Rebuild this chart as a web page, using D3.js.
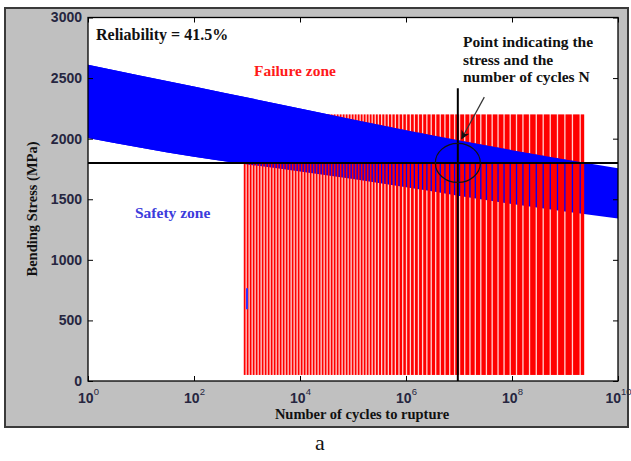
<!DOCTYPE html>
<html>
<head>
<meta charset="utf-8">
<script src="https://cdn.jsdelivr.net/npm/d3@7"></script>
<style>
  body { margin: 0; background: #fff; }
  svg { display: block; }
</style>
</head>
<body>
<svg id="chart" width="631" height="461"></svg>
<script>
// ---- data ----
const xExponents = [0, 2, 4, 6, 8, 10];
const yTicks = [0, 500, 1000, 1500, 2000, 2500, 3000];

// S-N scatter band (stress limits, MPa) at cycle exponents
const bandExponents = [0, 2, 4, 6, 8, 10];
const bandUpper = [2610, 2430, 2250, 2070, 1905, 1755];
const bandLower = [2005, 1850, 1728, 1600, 1460, 1341];

// failure region: cycles range and stress range
const failureCycles = [870, 2.3e9];
const failureStress = [50, 2200];

// operating point
const designStress = 1800;
const designCycles = 9.5e6;
const markerTopStress = 2417;

// isolated sample
const sampleCycles = 1000;
const sampleStress = [593, 766];

// annotation arrow [cycles, stress]
const arrowFrom = [3.0e7, 2343];
const arrowTo = [1.12e7, 2000];

const reliability = 41.5;

// ---- layout ----
const svg = d3.select('#chart');
const plot = { left: 88, top: 17.5, right: 618, bottom: 381 };
const x = d3.scaleLog().domain([1, 1e10]).range([plot.left, plot.right]);
const y = d3.scaleLinear().domain([0, 3000]).range([plot.bottom, plot.top]);

const serif = '"Liberation Serif", "Times New Roman", serif';
const sans = '"Liberation Sans", Arial, sans-serif';

// figure panel
svg.append('rect')
  .attr('x', 5).attr('y', 8).attr('width', 623).attr('height', 419)
  .attr('fill', '#c0c0c0').attr('stroke', '#3a3a3a').attr('stroke-width', 2);

svg.append('rect')
  .attr('x', plot.left).attr('y', plot.top)
  .attr('width', plot.right - plot.left).attr('height', plot.bottom - plot.top)
  .attr('fill', '#fff');

const defs = svg.append('defs');
defs.append('clipPath').attr('id', 'plotClip').append('rect')
  .attr('x', plot.left).attr('y', plot.top)
  .attr('width', plot.right - plot.left).attr('height', plot.bottom - plot.top);
defs.append('clipPath').attr('id', 'aboveDesign').append('rect')
  .attr('x', plot.left).attr('y', plot.top)
  .attr('width', plot.right - plot.left).attr('height', y(designStress) - plot.top);

const g = svg.append('g').attr('clip-path', 'url(#plotClip)');

const bandData = bandExponents.map((e, i) => ({ n: Math.pow(10, e), hi: bandUpper[i], lo: bandLower[i] }));
const bandArea = d3.area()
  .x(d => x(d.n))
  .y0(d => y(d.lo))
  .y1(d => y(d.hi))
  .curve(d3.curveMonotoneX);

// pale backing of the failure hatch
const fx0 = x(failureCycles[0]), fx1 = x(failureCycles[1]);
g.append('rect')
  .attr('x', fx0).attr('y', y(failureStress[1]))
  .attr('width', fx1 - fx0).attr('height', y(failureStress[0]) - y(failureStress[1]))
  .attr('fill', '#ffd2d2');

// full scatter band
g.append('path').datum(bandData).attr('d', bandArea).attr('fill', '#0000ff');

// failure hatch: vertical red strokes, spacing widening toward long lives
const stripes = [];
const widenFrom = x(2e5);
let px = fx0;
while (px < fx1) {
  const pitch = px < widenFrom ? 3 : 3 + (px - widenFrom) / (fx1 - widenFrom) * 5;
  stripes.push({ x0: px, w: Math.min(pitch - 1.3, fx1 - px) });
  px += pitch;
}
g.selectAll('rect.stripe').data(stripes).enter().append('rect')
  .attr('class', 'stripe')
  .attr('x', d => d.x0).attr('width', d => Math.max(0.8, d.w))
  .attr('y', y(failureStress[1]))
  .attr('height', y(failureStress[0]) - y(failureStress[1]))
  .attr('fill', '#ff0000');

// band above the design stress sits on top of the hatch
g.append('path').datum(bandData).attr('d', bandArea).attr('fill', '#0000ff')
  .attr('clip-path', 'url(#aboveDesign)');

// isolated sample
g.append('line')
  .attr('x1', x(sampleCycles)).attr('x2', x(sampleCycles))
  .attr('y1', y(sampleStress[0])).attr('y2', y(sampleStress[1]))
  .attr('stroke', '#3030ff').attr('stroke-width', 2);

// design stress and life lines
g.append('line')
  .attr('x1', plot.left).attr('x2', plot.right)
  .attr('y1', y(designStress)).attr('y2', y(designStress))
  .attr('stroke', '#000').attr('stroke-width', 2);
g.append('line')
  .attr('x1', x(designCycles)).attr('x2', x(designCycles))
  .attr('y1', y(markerTopStress)).attr('y2', y(0))
  .attr('stroke', '#000').attr('stroke-width', 2);

// circle around the operating point
g.append('ellipse')
  .attr('cx', x(designCycles)).attr('cy', y(designStress))
  .attr('rx', 22.5).attr('ry', 19.5)
  .attr('fill', 'none').attr('stroke', '#111').attr('stroke-width', 1.2);

// ---- axes ----
const tickInk = '#262640';
const xTickVals = xExponents.map(e => Math.pow(10, e));
const xAxis = svg.append('g').attr('transform', `translate(0,${plot.bottom})`)
  .call(d3.axisBottom(x).tickValues(xTickVals).tickSizeInner(-5).tickSizeOuter(0));
xAxis.selectAll('.tick text').each(function (d) {
  const t = d3.select(this);
  t.text(null).attr('y', 21.5).attr('dy', null)
    .attr('font-family', sans).attr('font-size', 14).attr('font-weight', 'bold')
    .attr('fill', tickInk).attr('text-anchor', 'middle');
  t.append('tspan').text('10');
  t.append('tspan').attr('dy', -8).attr('font-size', 9.5).attr('font-weight', 'normal')
    .text(Math.round(Math.log10(d)));
});

const yAxis = svg.append('g').attr('transform', `translate(${plot.left},0)`)
  .call(d3.axisLeft(y).tickValues(yTicks).tickFormat(d3.format('d'))
    .tickSizeInner(-5).tickSizeOuter(0).tickPadding(6));
yAxis.selectAll('.tick text')
  .attr('font-family', sans).attr('font-size', 14).attr('font-weight', 'bold')
  .attr('fill', tickInk);

svg.append('g').attr('transform', `translate(0,${plot.top})`)
  .call(d3.axisTop(x).tickValues(xTickVals).tickSizeInner(-5).tickSizeOuter(0).tickFormat(''));
svg.append('g').attr('transform', `translate(${plot.right},0)`)
  .call(d3.axisRight(y).tickValues(yTicks).tickSizeInner(-5).tickSizeOuter(0).tickFormat(''));

svg.selectAll('.domain').remove();
svg.selectAll('.tick line').attr('stroke', '#000');

svg.append('rect')
  .attr('x', plot.left).attr('y', plot.top)
  .attr('width', plot.right - plot.left).attr('height', plot.bottom - plot.top)
  .attr('fill', 'none').attr('stroke', '#000').attr('stroke-width', 1.3);

// ---- annotation arrow ----
defs.append('marker').attr('id', 'arrowHead')
  .attr('viewBox', '0 0 10 10').attr('refX', 9).attr('refY', 5)
  .attr('markerWidth', 9).attr('markerHeight', 9)
  .attr('markerUnits', 'userSpaceOnUse').attr('orient', 'auto')
  .append('path').attr('d', 'M0,0 L10,5 L0,10 L3,5 Z').attr('fill', '#111');
svg.append('line')
  .attr('x1', x(arrowFrom[0])).attr('y1', y(arrowFrom[1]))
  .attr('x2', x(arrowTo[0])).attr('y2', y(arrowTo[1]))
  .attr('stroke', '#333').attr('stroke-width', 1.2)
  .attr('marker-end', 'url(#arrowHead)');

// ---- text ----
const txt = (s, xx, yy, opts = {}) => svg.append('text')
  .attr('x', xx).attr('y', yy)
  .attr('font-family', opts.family || serif)
  .attr('font-size', opts.size || 16)
  .attr('font-weight', opts.weight || 'bold')
  .attr('fill', opts.fill || '#111')
  .attr('text-anchor', opts.anchor || 'start')
  .text(s);

txt(`Reliability = ${reliability}%`, 96, 40, { size: 16 });
txt('Failure zone', 254, 76, { size: 15.5, fill: '#ff1a1a' });
txt('Safety zone', 135, 218, { size: 15.5, fill: '#3c3cdc' });
txt('Point indicating the', 463, 47, { size: 15.5 });
txt('stress and the', 463, 64.5, { size: 15.5 });
txt('number of cycles N', 463, 82.3, { size: 15.5 });

txt('Number of cycles to rupture', 362, 419, { size: 14.5, anchor: 'middle' });
svg.append('text')
  .attr('transform', 'translate(37,209) rotate(-90)')
  .attr('font-family', serif).attr('font-size', 14.5).attr('font-weight', 'bold')
  .attr('fill', '#111').attr('text-anchor', 'middle')
  .text('Bending Stress (MPa)');

txt('a', 320, 450, { size: 22, weight: 'normal', anchor: 'middle' });
</script>
</body>
</html>
